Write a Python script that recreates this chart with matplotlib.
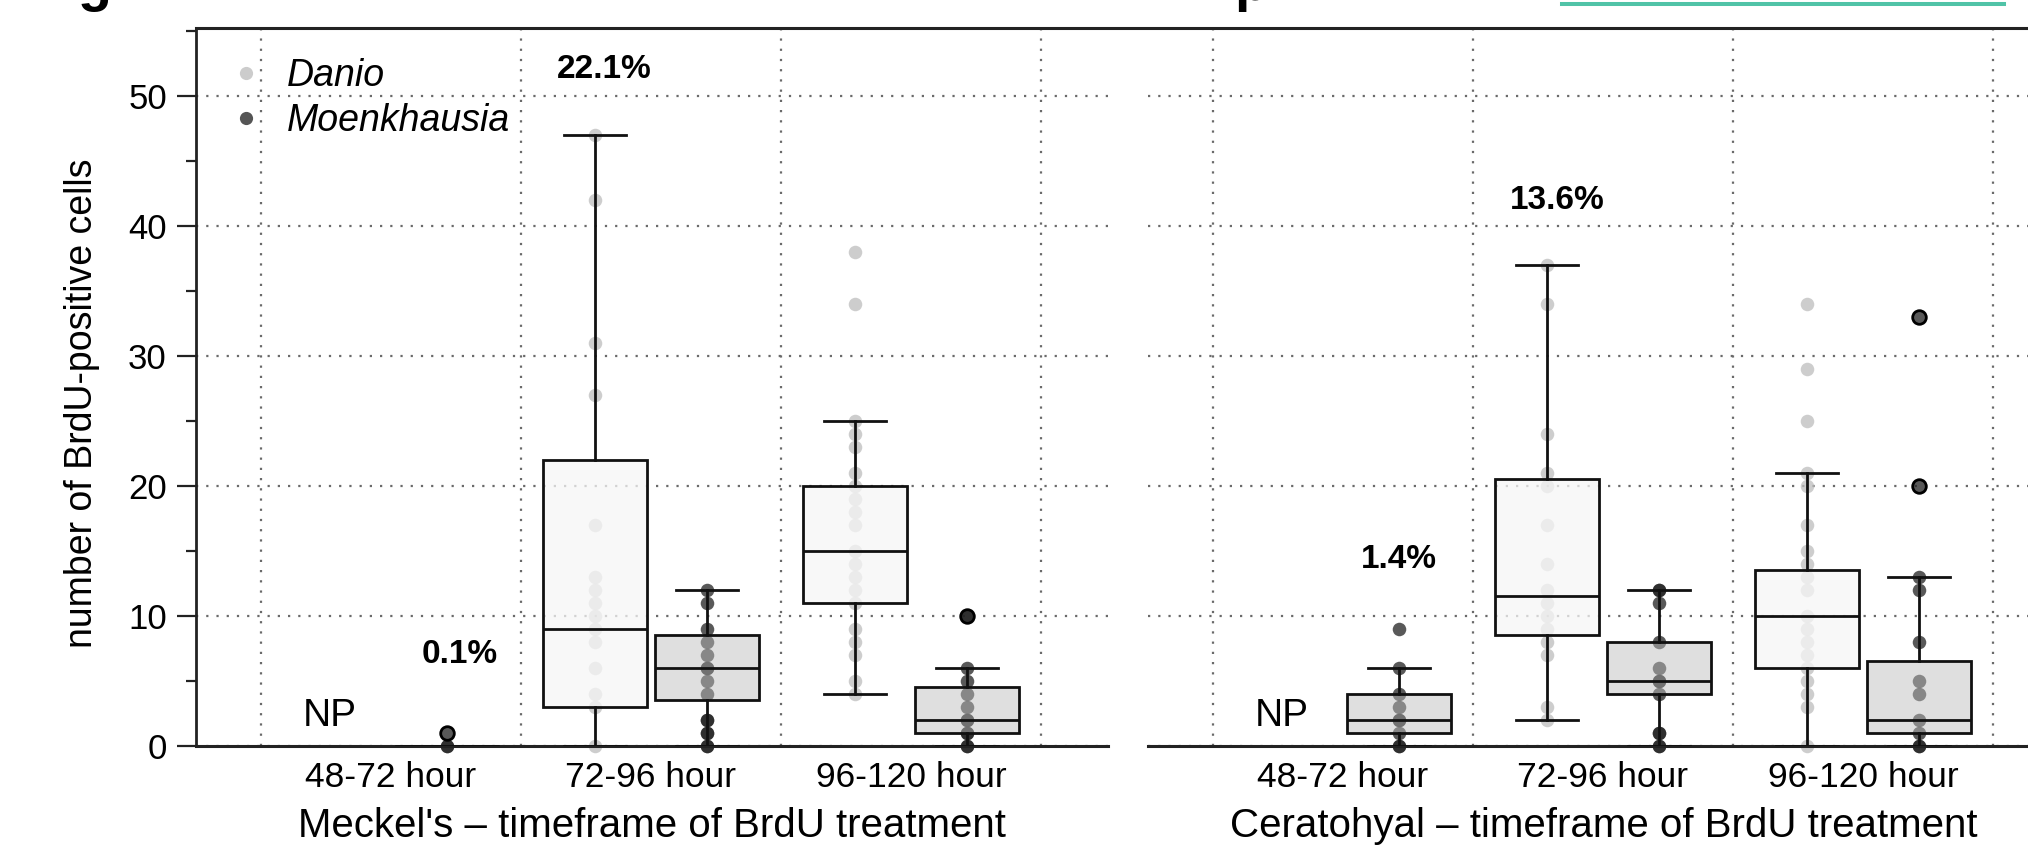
import matplotlib
matplotlib.use('Agg')
import matplotlib.pyplot as plt
from matplotlib.lines import Line2D
from matplotlib.ticker import MultipleLocator

plt.rcParams['font.family'] = ['Liberation Sans', 'DejaVu Sans']

W, H = 2028, 851

categories = ['48-72 hour', '72-96 hour', '96-120 hour']
species = ['Danio', 'Moenkhausia']

# raw points (None = not present, "NP")
meckel_danio_pts = [None,
                    [47, 42, 31, 27, 17, 13, 12, 11, 10, 9, 8, 6, 4, 3, 0],
                    [38, 34, 25, 24, 23, 21, 20, 19, 18, 17, 15, 14, 13, 12, 11, 9, 8, 7, 5, 4]]
meckel_moenk_pts = [[1, 0, 0],
                    [12, 11, 9, 8, 7, 6, 6, 5, 4, 2, 2, 1, 1, 0, 0],
                    [10, 10, 6, 5, 4, 3, 2, 2, 1, 1, 0, 0]]
cerato_danio_pts = [None,
                    [37, 34, 24, 21, 20, 17, 14, 12, 11, 10, 9, 8, 7, 3, 2],
                    [34, 29, 25, 21, 20, 17, 15, 14, 13, 12, 10, 9, 8, 7, 6, 5, 4, 3, 0]]
cerato_moenk_pts = [[9, 6, 4, 3, 2, 2, 1, 0, 0],
                    [12, 12, 11, 8, 6, 5, 5, 4, 1, 1, 0, 0],
                    [33, 20, 13, 12, 8, 5, 4, 2, 1, 0, 0]]

# box statistics: (whislo, q1, median, q3, whishi)
meckel_danio_box = [None, (0, 3, 9, 22, 47), (4, 11, 15, 20, 25)]
meckel_moenk_box = [(0, 0, 0, 0, 0), (0, 3.5, 6, 8.5, 12), (0, 1, 2, 4.5, 6)]
cerato_danio_box = [None, (2, 8.5, 11.5, 20.5, 37), (0, 6, 10, 13.5, 21)]
cerato_moenk_box = [(0, 1, 2, 4, 6), (0, 4, 5, 8, 12), (0, 1, 2, 6.5, 13)]

meckel_moenk_fliers = [[1], [], [10]]
cerato_moenk_fliers = [[], [], [33, 20]]

meckel_pct = ['0.1%', '22.1%', None]
cerato_pct = ['1.4%', '13.6%', None]

xlabels = ["Meckel's \u2013 timeframe of BrdU treatment",
           "Ceratohyal \u2013 timeframe of BrdU treatment"]
ylabel = 'number of BrdU-positive cells'

OFF = 0.215
STY = {
    'Danio': dict(off=-OFF, pc='#bdbdbd', pa=0.75, fc=(0.965, 0.965, 0.965, 0.75)),
    'Moenkhausia': dict(off=OFF, pc='#222222', pa=0.75, fc=(0.74, 0.74, 0.74, 0.47)),
}
GRID = dict(color='#6a6a6a', linestyle=(0, (1, 3.6)), linewidth=1.6)

fig = plt.figure(figsize=(W / 100, H / 100), dpi=100)
ax_bottom = (H - 746) / H
ax_h = (746 - 28) / H
axL = fig.add_axes([196 / W, ax_bottom, 912 / W, ax_h])
axR = fig.add_axes([1148 / W, ax_bottom, 912 / W, ax_h])


def draw_panel(ax, dpts, mpts, dbox, mbox, mfl, pct, xlabel, pct_pos):
    for i in range(len(categories)):
        for sp, pts, box, fl in (('Danio', dpts[i], dbox[i], []),
                                 ('Moenkhausia', mpts[i], mbox[i], mfl[i])):
            if pts is None:
                continue
            st = STY[sp]
            x = i + st['off']
            ax.scatter([x] * len(pts), pts, s=95, c=st['pc'], alpha=st['pa'],
                       linewidths=0, zorder=2, clip_on=False)
            lo, q1, med, q3, hi = box
            stats = [dict(whislo=lo, q1=q1, med=med, q3=q3, whishi=hi, fliers=fl)]
            ax.bxp(stats, positions=[x], widths=0.40, capwidths=0.24,
                   patch_artist=True, manage_ticks=False, zorder=3,
                   boxprops=dict(facecolor=st['fc'], edgecolor='#111111', linewidth=2.0),
                   whiskerprops=dict(color='#111111', linewidth=2.0),
                   capprops=dict(color='#111111', linewidth=2.0),
                   medianprops=dict(color='#111111', linewidth=2.0),
                   flierprops=dict(marker='o', markerfacecolor='none',
                                   markeredgecolor='black', markersize=9.8,
                                   markeredgewidth=2.0))
        if dpts[i] is None:
            ax.text(i - 0.235, 2.3, 'NP', fontsize=28, ha='center', va='center')
        if pct[i] is not None:
            px, py = pct_pos[i]
            ax.text(i + px, py, pct[i], fontsize=24, fontweight='bold',
                    ha='center', va='center')

    ax.set_xlim(-0.75, 2.758)
    ax.set_ylim(0, 55.2)
    ax.set_xticks(range(len(categories)))
    ax.set_xticklabels(categories, fontsize=25.5)
    ax.set_xticks([-0.5, 0.5, 1.5, 2.5], minor=True)
    ax.tick_params(axis='x', which='both', length=0, pad=11)
    ax.set_yticks(range(0, 51, 10))
    ax.yaxis.set_minor_locator(MultipleLocator(5))
    ax.xaxis.grid(True, which='minor', **GRID)
    ax.yaxis.grid(True, which='major', **GRID)
    ax.set_axisbelow(True)
    ax.spines['top'].set_visible(False)
    ax.spines['right'].set_visible(False)
    ax.spines['bottom'].set_linewidth(2.2)
    ax.spines['bottom'].set_color('#222222')
    ax.set_xlabel(xlabel, fontsize=29, labelpad=9)


draw_panel(axL, meckel_danio_pts, meckel_moenk_pts, meckel_danio_box, meckel_moenk_box,
           meckel_moenk_fliers, meckel_pct, xlabels[0],
           [(0.265, 7.0), (-0.18, 52.0), (0, 0)])
draw_panel(axR, cerato_danio_pts, cerato_moenk_pts, cerato_danio_box, cerato_moenk_box,
           cerato_moenk_fliers, cerato_pct, xlabels[1],
           [(0.215, 14.3), (-0.175, 41.9), (0, 0)])

# left panel y axis
axL.spines['left'].set_linewidth(2.0)
axL.spines['left'].set_color('#222222')
axL.tick_params(axis='y', which='major', length=14, width=1.6, pad=7,
                labelsize=25, colors='#222222')
axL.tick_params(axis='y', which='minor', length=7, width=1.6, colors='#222222')
for lab in axL.get_yticklabels():
    lab.set_color('black')
axL.set_ylabel(ylabel, fontsize=27)
axL.yaxis.set_label_coords(-0.105, 0.478)

# right panel: no y axis
axR.spines['left'].set_visible(False)
axR.tick_params(axis='y', which='both', left=False, labelleft=False)

# legend
handles = [Line2D([], [], linestyle='none', marker='o', markersize=9.5,
                  markerfacecolor=c, markeredgecolor='none')
           for c in ('#cccccc', '#555555')]
leg = axL.legend(handles, species, loc='upper left', bbox_to_anchor=(0.01, 0.99),
                 frameon=False, handlelength=1.0, handletextpad=0.57,
                 labelspacing=0.26, borderaxespad=0.2,
                 prop=dict(size=27, style='italic'))

# continuous top rule
ytop = (H - 28) / H
fig.add_artist(Line2D([196 / W, 1.0], [ytop, ytop], transform=fig.transFigure,
                      color='#222222', linewidth=2.2))

# cropped remnants at the top edge (the reference shows them cut off)
fig.text(78 / W, 1.0, 'g', fontsize=40, fontweight='bold', ha='left', va='baseline')
fig.text(1234 / W, 1.0, 'p', fontsize=40, fontweight='bold', ha='left', va='baseline')
fig.add_artist(Line2D([1562 / W, 2004 / W], [1 - 3.7 / H, 1 - 3.7 / H],
                      transform=fig.transFigure, color='#50c3a7', linewidth=2.9))

fig.savefig('out.png', dpi=100)
